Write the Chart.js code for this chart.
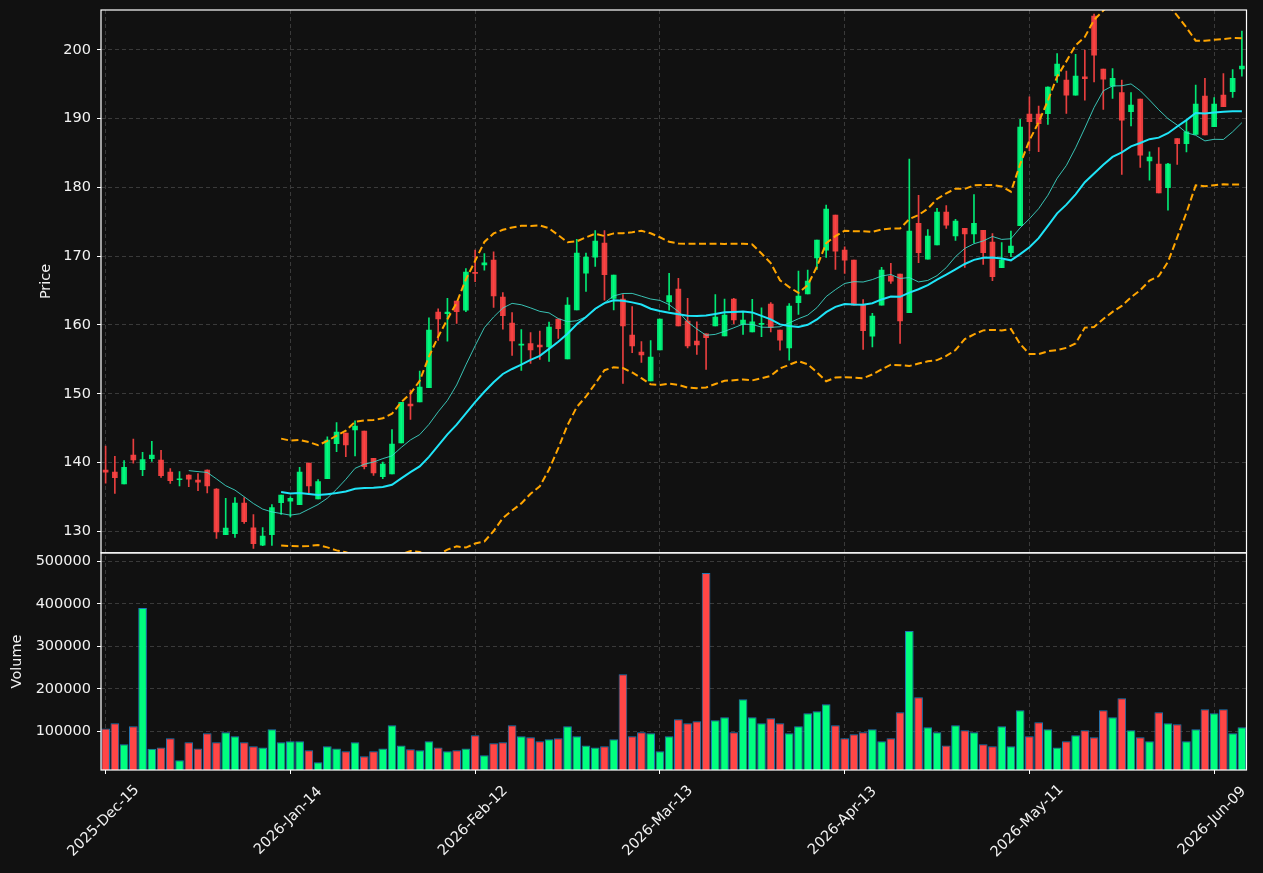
<!DOCTYPE html>
<html>
<head>
<meta charset="utf-8">
<script src="https://cdn.jsdelivr.net/npm/chart.js@4.4.0/dist/chart.umd.min.js"></script>
<style>
  html, body { margin: 0; padding: 0; background: #111111; }
</style>
</head>
<body>
<canvas id="myChart" width="1263" height="873"></canvas>
<script>
// daily OHLCV
const opens = [138.9,138.6,136.9,141.1,138.95,140.55,140.35,138.6,137.5,138.17,
  137.44,138.9,136.14,129.5,129.65,134.1,130.5,128.0,129.5,134.15,
  134.4,133.86,139.92,134.73,137.64,142.73,144.28,144.76,144.57,140.6,
  137.93,138.36,142.87,148.5,148.83,150.87,161.87,161.63,163.47,162.16,
  167.65,168.75,169.43,164.05,160.27,157.07,157.3,157.07,156.83,160.85,
  155.08,162.21,167.54,169.87,171.9,163.86,163.76,158.53,156.05,151.88,
  156.39,163.37,165.21,160.56,157.65,158.72,159.88,158.43,163.76,160.08,
  159.0,160.1,163.03,159.25,156.68,163.23,164.53,169.77,170.88,175.97,
  170.88,169.43,162.89,158.38,162.89,167.11,167.4,161.78,174.77,169.58,
  171.66,176.42,172.97,174.04,173.26,173.75,172.05,168.32,170.5,174.43,
  190.67,190.67,190.71,196.23,195.6,193.42,196.09,204.91,197.2,194.73,
  193.81,191.0,192.84,183.87,183.39,179.95,187.12,186.35,187.7,193.28,
  188.82,193.42,193.91,197.25];

const highs = [142.4,140.9,140.3,143.4,141.5,143.07,141.76,139.14,138.7,138.2,
  138.4,138.95,136.2,134.8,134.9,134.9,132.45,130.56,133.9,135.26,
  135.0,139.3,139.92,137.54,143.75,145.83,144.28,146.07,144.57,140.6,
  140.06,144.81,148.74,150.53,153.3,161.05,162.36,163.86,163.47,168.2,
  170.9,170.4,170.64,164.73,161.82,159.35,158.9,159.1,160.41,160.85,
  164.0,172.44,170.45,173.74,173.74,167.25,164.44,162.69,157.6,157.75,
  160.85,167.5,166.77,163.86,160.46,158.72,164.44,163.76,163.86,161.92,
  163.72,162.5,163.27,159.25,163.13,167.83,167.98,172.34,177.43,175.97,
  171.37,169.43,163.71,161.68,168.37,168.95,167.4,184.12,178.84,173.89,
  176.95,177.38,175.35,174.04,178.98,173.75,173.31,172.0,173.65,189.89,
  193.19,191.83,194.63,199.48,196.91,199.34,199.97,205.2,197.2,197.3,
  195.6,193.81,192.84,185.18,185.81,183.49,187.12,189.79,194.88,195.85,
  193.08,196.57,197.15,202.73];

const lows = [137.0,135.5,136.9,139.9,138.1,140.16,137.83,136.96,136.62,136.5,
  135.9,135.6,128.96,129.5,129.1,131.15,127.5,127.9,127.95,132.45,
  132.1,133.86,135.6,134.73,137.64,141.6,140.84,140.98,139.09,138.12,
  137.64,138.36,142.87,146.27,148.83,150.87,157.75,157.66,160.23,161.92,
  166.3,167.98,162.55,159.4,155.57,153.4,154.4,154.99,154.7,158.04,
  155.08,162.21,164.87,168.51,163.61,162.21,151.5,155.96,154.55,151.88,
  156.39,162.16,159.88,156.68,155.71,153.53,159.88,158.43,160.2,158.63,
  159.0,158.3,159.0,156.34,154.89,161.53,164.53,168.07,169.82,168.07,
  167.49,162.89,156.44,156.83,162.89,166.04,157.32,161.78,169.05,169.58,
  171.66,174.04,172.29,168.37,171.95,168.8,166.43,168.32,169.92,174.43,
  185.33,185.19,189.16,195.27,190.76,193.42,192.7,195.36,191.34,192.94,
  181.89,188.96,182.9,181.06,179.22,176.7,183.34,185.18,187.7,187.65,
  188.82,191.73,193.08,196.19];

const closes = [138.6,137.8,139.3,140.4,140.45,141.08,138.1,137.35,137.6,137.6,
  137.15,136.6,129.93,130.47,134.1,131.4,128.2,129.3,133.47,135.26,
  134.8,138.6,136.62,137.25,143.26,144.42,142.58,145.3,139.4,138.51,
  139.77,142.68,148.74,148.25,150.97,159.26,160.9,161.87,161.92,167.69,
  167.5,169.04,164.24,161.34,157.7,157.2,156.39,156.83,159.69,159.45,
  162.89,170.45,169.87,172.19,167.3,167.25,159.88,156.97,155.66,155.33,
  160.85,164.29,159.88,156.97,157.12,158.14,161.14,161.43,160.75,160.7,
  160.46,160.25,159.64,157.8,162.74,164.2,166.38,172.34,176.85,170.74,
  169.43,162.89,159.16,161.29,167.98,166.38,160.61,173.65,170.5,172.92,
  176.42,174.52,175.11,173.26,174.77,170.5,167.01,169.43,171.47,188.78,
  189.55,189.26,194.59,197.93,193.42,196.19,195.8,199.24,195.75,195.85,
  189.79,191.97,184.7,184.41,179.22,183.39,186.35,188.09,192.11,187.65,
  192.11,191.73,195.85,197.64];

const volumes = [106200,118800,69000,111700,390500,58700,61900,83200,31400,73700,
  59500,95100,73700,97500,88000,73700,64300,61900,104600,73700,
  76100,76100,55000,26700,64300,59500,52600,73700,40800,52600,
  59500,114100,66600,57400,55000,76100,61900,52600,55000,59500,
  90500,43200,71600,73700,114100,88000,85700,76100,81000,83200,
  111700,88000,66600,61900,64300,81000,234600,88000,97500,95100,
  52600,88000,128300,118800,123500,473200,125900,133000,97500,175500,
  133000,118800,130600,118800,95100,111700,142400,147200,163700,114100,
  83200,92800,97500,104600,76100,83200,144800,336200,180200,109400,
  97500,66600,114100,102300,97500,69000,64300,111700,64300,149500,
  88000,121200,104600,61900,76100,90500,102300,85700,149500,133000,
  177900,102300,85700,76100,144800,118800,116400,76100,104600,151900,
  142400,151900,95100,109400];

const priceTicks = [130, 140, 150, 160, 170, 180, 190, 200];
const volumeTicks = [100000, 200000, 300000, 400000, 500000];

// trading days (NYSE calendar)
const months = ["Jan","Feb","Mar","Apr","May","Jun","Jul","Aug","Sep","Oct","Nov","Dec"];
const holidays = ["2025-12-25","2026-01-01","2026-01-19","2026-02-16","2026-04-03","2026-05-25"];
const dates = [];
let day = new Date(Date.UTC(2025, 11, 15));
while (dates.length < closes.length) {
  const iso = day.toISOString().slice(0, 10);
  const wd = day.getUTCDay();
  if (wd !== 0 && wd !== 6 && !holidays.includes(iso)) {
    dates.push(`${day.getUTCFullYear()}-${months[day.getUTCMonth()]}-${String(day.getUTCDate()).padStart(2, "0")}`);
  }
  day = new Date(day.getTime() + 86400000);
}

// moving averages + bollinger from the closes
function sma(arr, n) {
  return arr.map((v, i) => {
    if (i < n - 1) return null;
    let s = 0;
    for (let j = i - n + 1; j <= i; j++) s += arr[j];
    return s / n;
  });
}
function band(arr, n, k) {
  const m = sma(arr, n);
  return arr.map((v, i) => {
    if (m[i] === null) return null;
    let s = 0;
    for (let j = i - n + 1; j <= i; j++) s += (arr[j] - m[i]) ** 2;
    return m[i] + k * Math.sqrt(s / n);
  });
}
const ma10 = sma(closes, 10);
const ma20 = sma(closes, 20);
const bbUp = band(closes, 20, 2);
const bbLow = band(closes, 20, -2);

const isUp = closes.map((c, i) => c >= opens[i]);
const candleColors = isUp.map((u) => (u ? "rgba(0,255,127,0.9)" : "rgba(255,68,68,0.9)"));
const volColors = isUp.map((u) => (u ? "#00ff7f" : "#ff4646"));

const textColor = "#f2f2f2";
const gridColor = "#3a3a3a";
const font = { family: "DejaVu Sans", size: 14.5 };

// fixed axis boxes so the plot lands where the original one is
function fitY(s) {
  s.width = 101;
  s.paddingTop = 0;
  s.paddingBottom = 0;
}

// clip each dataset to its own pane, draw frames and the date labels
const panes = {
  id: "panes",
  beforeDatasetDraw(chart, args) {
    const ys = chart.scales[args.meta.yAxisID];
    const a = chart.chartArea;
    chart.ctx.save();
    chart.ctx.beginPath();
    chart.ctx.rect(a.left, ys.top, a.right - a.left, ys.bottom - ys.top);
    chart.ctx.clip();
  },
  afterDatasetDraw(chart) {
    chart.ctx.restore();
  },
  afterDraw(chart) {
    const ctx = chart.ctx;
    const a = chart.chartArea;
    ctx.save();
    ctx.strokeStyle = "#ffffff";
    ctx.lineWidth = 1.2;
    ["y", "yv"].forEach((id) => {
      const s = chart.scales[id];
      ctx.strokeRect(a.left, s.top, a.right - a.left, s.bottom - s.top);
    });
    ctx.fillStyle = textColor;
    ctx.font = "14.5px 'DejaVu Sans'";
    ctx.textAlign = "center";
    ctx.textBaseline = "middle";
    const xs = chart.scales.x;
    for (let i = 0; i < dates.length; i += 20) {
      ctx.save();
      ctx.translate(xs.getPixelForValue(i) - 2, 821);
      ctx.rotate(-Math.PI / 4);
      ctx.fillText(dates[i], 0, 0);
      ctx.restore();
    }
    ctx.restore();
  },
};

const config = {
  type: "bar",
  data: {
    labels: dates,
    datasets: [
      { type: "line", data: bbUp, yAxisID: "y", borderColor: "#ffa500", borderWidth: 2, borderDash: [7, 3.5], pointRadius: 0, order: 0 },
      { type: "line", data: bbLow, yAxisID: "y", borderColor: "#ffa500", borderWidth: 2, borderDash: [7, 3.5], pointRadius: 0, order: 0 },
      { type: "line", data: ma20, yAxisID: "y", borderColor: "#1fe4f7", borderWidth: 2, pointRadius: 0, order: 0 },
      { type: "line", data: ma10, yAxisID: "y", borderColor: "rgba(64,224,208,0.85)", borderWidth: 1, pointRadius: 0, order: 0 },
      {
        data: opens.map((o, i) => [Math.min(o, closes[i]), Math.max(o, closes[i])]),
        yAxisID: "y", backgroundColor: candleColors, barThickness: 5, minBarLength: 1, grouped: false, order: 1,
      },
      {
        data: lows.map((l, i) => [l, highs[i]]),
        yAxisID: "y", backgroundColor: candleColors, barThickness: 1, grouped: false, order: 2,
      },
      {
        data: volumes, yAxisID: "yv", backgroundColor: volColors, borderColor: "#1f77b4", borderWidth: 1,
        borderSkipped: false, barPercentage: 1, categoryPercentage: 0.94, grouped: false, order: 3,
      },
    ],
  },
  options: {
    responsive: false,
    animation: false,
    layout: { padding: { left: 0, right: 16.5, top: 10, bottom: 0 } },
    plugins: { legend: { display: false }, tooltip: { enabled: false } },
    scales: {
      x: {
        type: "category",
        offset: true,
        grid: { offset: false, color: gridColor, tickColor: "#ffffff", tickLength: 4 },
        border: { display: false, dash: [4, 3] },
        ticks: { display: false, autoSkip: false },
        afterBuildTicks: (s) => { s.ticks = s.ticks.filter((t) => t.value % 20 === 0); },
        afterFit: (s) => { s.height = 103; s.paddingLeft = 0; s.paddingRight = 0; },
      },
      y: {
        position: "left",
        stack: "panes",
        stackWeight: 2.5,
        weight: 1,
        min: 126.87,
        max: 205.8,
        afterBuildTicks: (s) => { s.ticks = priceTicks.map((v) => ({ value: v })); },
        afterFit: fitY,
        ticks: { color: textColor, font: font, padding: 6, callback: (v) => String(v) },
        grid: { color: gridColor, tickColor: "#ffffff", tickLength: 4 },
        border: { display: false, dash: [4, 3] },
        title: { display: true, text: "Price", color: textColor, font: font, padding: { top: 38, bottom: 0 } },
      },
      yv: {
        position: "left",
        stack: "panes",
        stackWeight: 1,
        weight: 0,
        min: 8560,
        max: 520560,
        afterBuildTicks: (s) => { s.ticks = volumeTicks.map((v) => ({ value: v })); },
        afterFit: fitY,
        ticks: { color: textColor, font: font, padding: 6, callback: (v) => String(v) },
        grid: { color: gridColor, tickColor: "#ffffff", tickLength: 4 },
        border: { display: false, dash: [4, 3] },
        title: { display: true, text: "Volume", color: textColor, font: font, padding: { top: 9, bottom: 0 } },
      },
    },
  },
  plugins: [panes],
};

const myChart = new Chart(document.getElementById("myChart"), config);
</script>
</body>
</html>
